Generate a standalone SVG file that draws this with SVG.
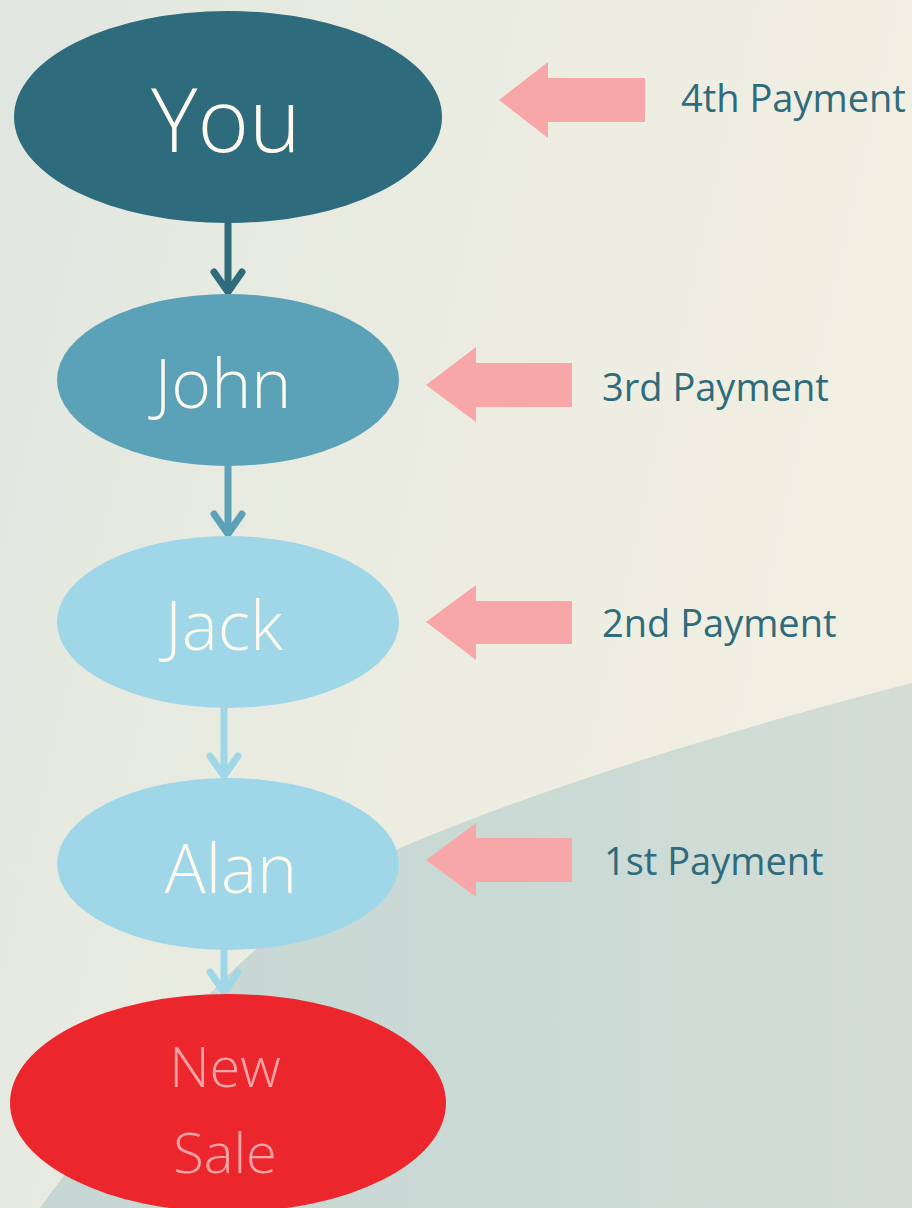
<svg xmlns="http://www.w3.org/2000/svg" width="912" height="1208" viewBox="0 0 912 1208">
<defs>
<linearGradient id="bg" x1="0" y1="0" x2="1" y2="0.3">
<stop offset="0" stop-color="#e0e7e0"/>
<stop offset="0.5" stop-color="#ebece1"/>
<stop offset="1" stop-color="#f2efe2"/>
</linearGradient>
<linearGradient id="low" x1="0" y1="0" x2="1" y2="0">
<stop offset="0" stop-color="#c6d6d2"/>
<stop offset="0.6" stop-color="#cbdad5"/>
<stop offset="1" stop-color="#d4ddd6"/>
</linearGradient>
<style>
.node-text{font-family:"Open Sans","Liberation Sans",sans-serif;font-weight:300;fill:#fdf9ec;text-anchor:middle}
.label{font-family:"Open Sans","Liberation Sans",sans-serif;font-weight:400;font-size:38px;fill:#2e6b7c}
.pay{fill:#f7a7a8}
.conn{fill:none;stroke-width:7;stroke-linecap:round;stroke-linejoin:round}
</style>
</defs>
<g id="background">
<rect x="0" y="0" width="912" height="1208" fill="url(#bg)"/>
<path d="M912 683 C760 722 560 780 400 848 C300 900 200 990 130 1090 C100 1130 60 1180 40 1208 L912 1208 Z" fill="url(#low)"/>
<path d="M0 860 L230 1000" stroke="#eef0e8" stroke-width="1.5" fill="none" opacity="0.35"/>
</g>
<g id="connectors">
<g class="conn" stroke="#2e6b7c"><path d="M228 224 V290"/><path d="M214 272 L228 292 L242 272"/></g>
<g class="conn" stroke="#5ba1b8"><path d="M228 467 V532"/><path d="M214 514 L228 534 L242 514"/></g>
<g class="conn" stroke="#9fd7e8"><path d="M224 709 V774"/><path d="M210 756 L224 776 L238 756"/></g>
<g class="conn" stroke="#9fd7e8"><path d="M224 951 V990"/><path d="M210 972 L224 992 L238 972"/></g>
</g>
<g id="node-you">
<ellipse cx="228" cy="117" rx="214" ry="106" fill="#2e6b7c"/>
<text class="node-text" x="226" y="152" font-size="88">You</text>
</g>
<g id="node-john">
<ellipse cx="228" cy="380" rx="171" ry="86" fill="#5ba1b8"/>
<text class="node-text" x="223" y="408" font-size="68">John</text>
</g>
<g id="node-jack">
<ellipse cx="228" cy="622" rx="171" ry="86" fill="#9fd7e8"/>
<text class="node-text" x="224" y="650" font-size="68">Jack</text>
</g>
<g id="node-alan">
<ellipse cx="228" cy="864" rx="171" ry="86" fill="#9fd7e8"/>
<text class="node-text" x="231" y="893" font-size="68">Alan</text>
</g>
<g id="node-newsale">
<ellipse cx="228" cy="1103" rx="218" ry="109" fill="#ec262d"/>
<text class="node-text" x="225" y="1087" font-size="56" style="fill:#f8a3a5">New</text>
<text class="node-text" x="225" y="1173" font-size="56" style="fill:#f8a3a5">Sale</text>
</g>
<g id="payment-4">
<polygon class="pay" points="499,100 548,62 548,78 645,78 645,122 548,122 548,138"/>
<text class="label" x="681" y="112">4th Payment</text>
</g>
<g id="payment-3">
<polygon class="pay" points="426,385 476,347 476,363 572,363 572,407 476,407 476,422"/>
<text class="label" x="602" y="401">3rd Payment</text>
</g>
<g id="payment-2">
<polygon class="pay" points="426,622 476,585 476,601 572,601 572,644 476,644 476,660"/>
<text class="label" x="602" y="637">2nd Payment</text>
</g>
<g id="payment-1">
<polygon class="pay" points="426,860 476,823 476,838 572,838 572,882 476,882 476,897"/>
<text class="label" x="604" y="875">1st Payment</text>
</g>
</svg>
